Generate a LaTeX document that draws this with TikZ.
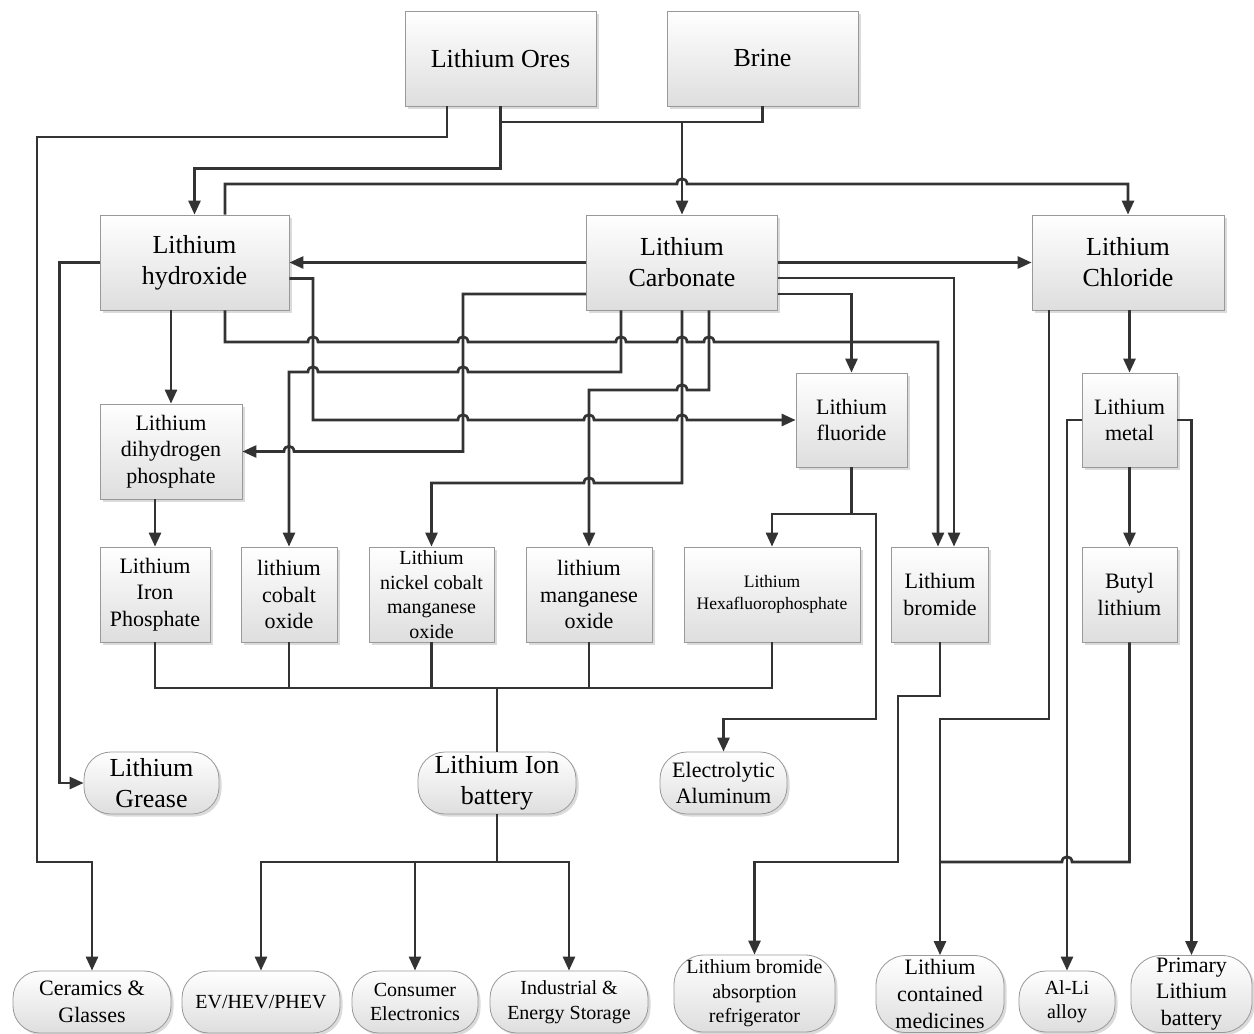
\documentclass[tikz,border=0pt]{standalone}
\usepackage{fontspec}
\setmainfont{Liberation Serif}
\usetikzlibrary{arrows.meta,shadows}
\newcommand\hopR[2]{-- ({#1-5},#2) .. controls ({#1-5},{#2-7}) and ({#1+5},{#2-7}) .. ({#1+5},#2)}
\newcommand\hopL[2]{-- ({#1+5},#2) .. controls ({#1+5},{#2-7}) and ({#1-5},{#2-7}) .. ({#1-5},#2)}
\tikzset{
  base/.style={draw=black!40, line width=0.8pt, top color=white, bottom color=black!13,
    drop shadow={shadow xshift=2.5pt,shadow yshift=-2.5pt,fill=black!35,opacity=0.4},
    inner sep=0pt, align=center, text=black},
  box/.style={base, rectangle},
  pill/.style={base, rectangle, rounded corners=27pt},
  pillb/.style={base, rectangle, rounded corners=30pt},
  sz/.style 2 args={minimum width=#1pt, minimum height=#2pt},
  fA/.style={font=\fontsize{26pt}{31pt}\selectfont},
  fB/.style={font=\fontsize{22pt}{26.7pt}\selectfont},
  fC/.style={font=\fontsize{20pt}{24.5pt}\selectfont},
  fD/.style={font=\fontsize{17.5pt}{22pt}\selectfont},
  conn/.style={draw=black!80, line width=2.7pt},
  arr/.style={conn, -{Triangle[length=14pt,width=12pt]}}
}
\begin{document}
\begin{tikzpicture}[x=1pt,y=-1pt]
\useasboundingbox[fill=white] (0,0) rectangle (1254,1034);
% top sources
\node[box,sz={191}{95},fA] (ores) at (500.5,58.5) {Lithium Ores};
\node[box,sz={191}{95},fA] (brine) at (762.5,58.5) {Brine};
% second row
\node[box,sz={189}{95},fA] (hyd) at (194.5,262.5) {Lithium\\hydroxide};
\node[box,sz={191}{95},fA] (carb) at (682,262.5) {Lithium\\Carbonate};
\node[box,sz={192}{95},fA] (chl) at (1128,262.5) {Lithium\\Chloride};
% third row
\node[box,sz={142}{95},fB] (dhp) at (171,451.5) {Lithium\\dihydrogen\\phosphate};
\node[box,sz={111}{94},fB] (fluo) at (851.5,420) {Lithium\\fluoride};
\node[box,sz={95}{94},fB] (metal) at (1129.5,420) {Lithium\\metal};
% fourth row
\node[box,sz={110}{95},fB] (lfp) at (155,594.5) {Lithium\\Iron\\Phosphate};
\node[box,sz={96}{95},fB] (lco) at (289,594.5) {lithium\\cobalt\\oxide};
\node[box,sz={125}{95},fC] (ncm) at (431.5,594.5) {Lithium\\nickel cobalt\\manganese\\oxide};
\node[box,sz={126}{95},fB] (lmo) at (589,594.5) {lithium\\manganese\\oxide};
\node[box,sz={176}{95},fD] (lpf6) at (772,594.5) {Lithium\\Hexafluorophosphate};
\node[box,sz={97}{95},fB] (lbr) at (940,594.5) {Lithium\\bromide};
\node[box,sz={95}{95},fB] (buli) at (1129.5,594.5) {Butyl\\lithium};
% products
\node[pill,sz={135}{62},fA] (grease) at (151.5,783) {Lithium\\Grease};
\node[pill,sz={158}{62},fA] (libat) at (497,783) {Lithium Ion\\battery};
\node[pill,sz={127}{62},fB] (elal) at (723.5,783) {Electrolytic\\Aluminum};
\node[pill,sz={158}{62},fB] (cer) at (92,1002) {Ceramics \&\\Glasses};
\node[pill,sz={158}{62},fC] (ev) at (261,1002) {EV/HEV/PHEV};
\node[pill,sz={126}{62},fC] (ce) at (415,1002) {Consumer\\Electronics};
\node[pill,sz={158}{62},fC] (ies) at (569,1002) {Industrial \&\\Energy Storage};
\node[pillb,sz={161}{77},fC] (refr) at (754.5,993.5) {Lithium bromide\\absorption\\refrigerator};
\node[pillb,sz={128}{77},fB] (med) at (940,994) {Lithium\\contained\\medicines};
\node[pill,sz={96}{61},fC] (alli) at (1067,1001.5) {Al-Li\\alloy};
\node[pillb,sz={121}{77},fB] (prim) at (1191.5,994) {Primary\\Lithium\\battery};
% connectors
\coordinate (j1) at (682,122);
\draw[arr] ([xshift=-53.5pt]ores.south) -- (447,137) -- (37,137) -- (37,862) -| (cer.north);
\draw[arr] (ores.south) -- ++(0,62) -| (hyd.north);
\draw[conn] (ores.south) |- (j1);
\draw[conn] (brine.south) |- (j1);
\draw[arr] (j1) -- (carb.north);
\draw[arr] ([xshift=30.5pt]hyd.north) -- (225,184) \hopR{682}{184} -| (chl.north);
\draw[arr] (carb.west) -- (hyd.east);
\draw[arr] (carb.east) -- (chl.west);
\draw[arr] ([yshift=-16pt]hyd.east) -- (313,278.5) -- (313,420) \hopR{463}{420} \hopR{589}{420} \hopR{682}{420} -- (fluo.west);
\draw[arr] ([xshift=30.5pt]hyd.south) -- (225,342) \hopR{313}{342} \hopR{463}{342} \hopR{621}{342} \hopR{682}{342} \hopR{709}{342} -| ([xshift=-2pt]lbr.north);
\draw[arr] ([xshift=-61pt]carb.south) -- (621,372) \hopL{463}{372} \hopL{313}{372} -| (lco.north);
\draw[arr] ([yshift=-31.5pt]carb.west) -- (463,294) -- (463,451.5) \hopL{289}{451.5} -- (dhp.east);
\draw[arr] ([xshift=27pt]carb.south) -- (709,390) \hopL{682}{390} -| (lmo.north);
\draw[arr] (carb.south) -- (682,483) \hopL{589}{483} -| (ncm.north);
\draw[arr] ([yshift=-15.5pt]carb.east) -| ([xshift=14pt]lbr.north);
\draw[arr] ([yshift=-31.5pt]carb.east) -| (fluo.north);
\draw[arr] (hyd.south -| dhp.north) -- (dhp.north);
\draw[arr] (dhp.south -| lfp.north) -- (lfp.north);
\draw[arr] (hyd.west) -- ++(-40,0) |- (grease.west);
\coordinate (fj) at (851.5,514);
\draw[arr] (fluo.south) -- (fj) -| (lpf6.north);
\draw[arr] (fj) -- (876,514) -- (876,719) -| (elal.north);
\coordinate (bus) at (497,688);
\draw[conn] (lfp.south) |- (bus) -| (lpf6.south);
\draw[conn] (lco.south) -- (lco.south |- bus);
\draw[conn] (ncm.south) -- (ncm.south |- bus);
\draw[conn] (lmo.south) -- (lmo.south |- bus);
\draw[conn] (bus) -- (libat.north);
\coordinate (bj) at (497,862);
\draw[conn] (libat.south) -- (bj);
\draw[arr] (bj) -| (ev.north);
\draw[arr] (bj) -| (ies.north);
\draw[arr] (bj -| ce.north) -- (ce.north);
\draw[arr] (chl.south -| metal.north) -- (metal.north);
\draw[arr] ([xshift=-79pt]chl.south) -- (1049,719) -| (med.north);
\draw[arr] (metal.west) -| (alli.north);
\draw[arr] (metal.east) -| (prim.north);
\draw[arr] (metal.south) -- (buli.north);
\draw[conn] (buli.south) -- (1129.5,862) \hopL{1067}{862} -- (940,862);
\draw[arr] (lbr.south) -- (940,696) -- (898,696) -- (898,862) -| (refr.north);
\end{tikzpicture}
\end{document}
